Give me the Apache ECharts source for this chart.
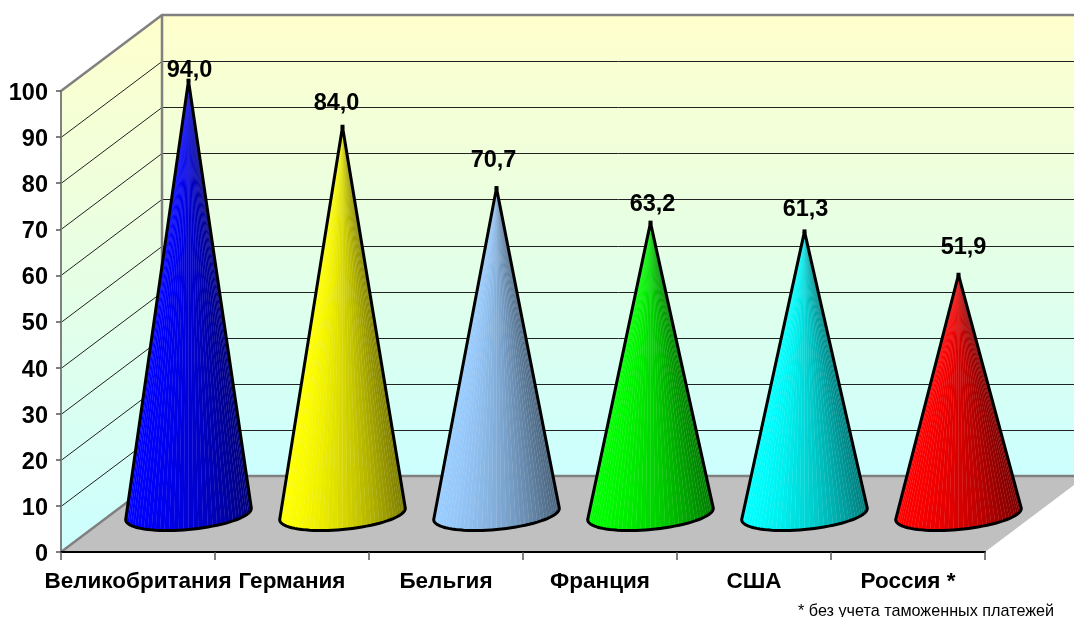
<!DOCTYPE html>
<html>
<head>
<meta charset="utf-8">
<style>html,body{margin:0;padding:0;background:#fff}#main{width:1074px;height:617px}</style>
<script src="https://cdn.jsdelivr.net/npm/echarts@6/dist/echarts.min.js"></script>
</head>
<body>
<div id="main"></div>
<script>
const categories = ['Великобритания', 'Германия', 'Бельгия', 'Франция', 'США', 'Россия *'];
const values = [94.0, 84.0, 70.7, 63.2, 61.3, 51.9];
const brightColors = ['#0000FF', '#FFFF00', '#99CCFF', '#00FF00', '#00FFFF', '#FF0000'];
const gridValues = [10, 20, 30, 40, 50, 60, 70, 80, 90, 100];
const footnote = '* без учета таможенных платежей';

// Oblique projection of the box: how far the back plane is shifted from the front plane.
const DEPTH_X = 101, DEPTH_Y = 76;
// Cone base ellipse, expressed in the floor plane.
const BASE_A = 59, BASE_BX = 21.6, BASE_BY = 16.5;
const FACETS = 40;
// Nudges of the value captions relative to each cone tip.
const captionNudge = [[1, -10], [-6, -23], [-3, -28], [2, -18], [1, -22], [5, -27]];

const FONT = '"Liberation Sans", Arial, sans-serif';

function rgbOf(hex) {
  const n = parseInt(hex.slice(1), 16);
  return [(n >> 16) & 255, (n >> 8) & 255, n & 255];
}
function faceShade(u) {
  return 1 - 0.42 * u * u - 0.1 * u;
}
function shade(hex, k) {
  return 'rgb(' + rgbOf(hex).map(v => Math.round(v * k)).join(',') + ')';
}
// The same shade pulled towards white: shows through the seams between facets.
function seamShade(hex, k) {
  return 'rgb(' + rgbOf(hex).map(v => Math.round(v * k + (255 - v * k) * 0.5)).join(',') + ')';
}

function renderBox(params, api) {
  const cs = params.coordSys;
  const left = cs.x, right = cs.x + cs.width, top = cs.y, bottom = cs.y + cs.height;
  const wallFill = new echarts.graphic.LinearGradient(0, 0, 0, 1, [
    { offset: 0, color: '#FFFFCC' }, { offset: 1, color: '#CCFFFF' }
  ]);
  const children = [
    { type: 'polygon', shape: { points: [[left + DEPTH_X, top - DEPTH_Y], [right + DEPTH_X, top - DEPTH_Y], [right + DEPTH_X, bottom - DEPTH_Y], [left + DEPTH_X, bottom - DEPTH_Y]] }, style: { fill: wallFill } },
    { type: 'polygon', shape: { points: [[left, top], [left + DEPTH_X, top - DEPTH_Y], [left + DEPTH_X, bottom - DEPTH_Y], [left, bottom]] }, style: { fill: wallFill } },
    { type: 'polygon', shape: { points: [[left, bottom], [right, bottom], [right + DEPTH_X, bottom - DEPTH_Y], [left + DEPTH_X, bottom - DEPTH_Y]] }, style: { fill: '#C0C0C0' } }
  ];
  gridValues.forEach(v => {
    if (v === 100) return;
    const y = Math.round(api.coord([0, v])[1]) + 0.5;
    children.push({ type: 'polyline', shape: { points: [[left, y], [left + DEPTH_X, y - DEPTH_Y], [right + DEPTH_X, y - DEPTH_Y]] }, style: { fill: null, stroke: '#222', lineWidth: 1 } });
  });
  const edge = { fill: null, stroke: '#808080', lineWidth: 2.5 };
  children.push(
    { type: 'polyline', shape: { points: [[left, top], [left + DEPTH_X, top - DEPTH_Y], [right + DEPTH_X, top - DEPTH_Y]] }, style: edge },
    { type: 'polyline', shape: { points: [[left + DEPTH_X, top - DEPTH_Y], [left + DEPTH_X, bottom - DEPTH_Y], [right + DEPTH_X, bottom - DEPTH_Y]] }, style: edge },
    { type: 'polyline', shape: { points: [[left, bottom], [left + DEPTH_X, bottom - DEPTH_Y]] }, style: edge }
  );
  return { type: 'group', children };
}

function renderCone(params, api) {
  const idx = api.value(0), val = api.value(1);
  const p0 = api.coord([idx, 0]), pv = api.coord([idx, val]);
  const cx = p0[0] + DEPTH_X / 2, cy = p0[1] - DEPTH_Y / 2;
  const tip = [pv[0] + DEPTH_X / 2, pv[1] - DEPTH_Y / 2];
  const phi = Math.atan2(BASE_BX, BASE_A);
  const arc = [];
  for (let i = 0; i <= FACETS; i++) {
    const t = Math.PI + phi + Math.PI * i / FACETS;
    arc.push([cx + BASE_A * Math.cos(t) + BASE_BX * Math.sin(t), cy - BASE_BY * Math.sin(t)]);
  }
  const minX = arc[0][0], maxX = arc[FACETS][0];
  const color = brightColors[idx];
  const stops = [0, 0.25, 0.5, 0.75, 1].map(u => ({ offset: u, color: seamShade(color, faceShade(u)) }));
  const children = [{
    type: 'polygon',
    shape: { points: [tip].concat(arc) },
    style: { fill: new echarts.graphic.LinearGradient(minX, 0, maxX, 0, stops, true) }
  }];
  for (let i = 0; i < FACETS; i++) {
    const u = ((arc[i][0] + arc[i + 1][0]) / 2 - minX) / (maxX - minX);
    children.push({
      type: 'polygon',
      shape: { points: [tip, arc[i], arc[i + 1]] },
      style: { fill: shade(color, faceShade(u)), stroke: null }
    });
  }
  children.push({
    type: 'polygon',
    shape: { points: [tip].concat(arc) },
    style: { fill: null, stroke: '#000', lineWidth: 3, lineJoin: 'round' }
  });
  children.push({
    type: 'rect',
    shape: { x: tip[0] - 2, y: tip[1] - 2, width: 4, height: 4 },
    style: { fill: '#000' }
  });
  const nudge = captionNudge[idx];
  children.push({
    type: 'text',
    x: tip[0] + nudge[0],
    y: tip[1] + nudge[1],
    style: {
      text: val.toFixed(1).replace('.', ','),
      font: 'bold 23.5px ' + FONT,
      fill: '#000',
      align: 'center',
      verticalAlign: 'middle'
    }
  });
  return { type: 'group', children };
}

const chart = echarts.init(document.getElementById('main'), null, { renderer: 'canvas' });
chart.setOption({
  animation: false,
  backgroundColor: '#fff',
  title: {
    text: footnote,
    left: 798,
    top: 604,
    padding: 0,
    textStyle: { fontFamily: FONT, fontSize: 16.2, fontWeight: 'normal', color: '#000' }
  },
  grid: { left: 61, right: 89, top: 91, bottom: 65 },
  xAxis: {
    type: 'category',
    data: categories,
    z: 5,
    axisLine: { lineStyle: { color: '#000', width: 2 } },
    axisTick: { show: true, length: 8, lineStyle: { color: '#555', width: 1.5 } },
    axisLabel: { interval: 0, margin: 18, color: '#000', fontFamily: FONT, fontWeight: 'bold', fontSize: 22.5 }
  },
  yAxis: {
    type: 'value',
    min: 0,
    max: 100,
    interval: 10,
    z: 5,
    splitLine: { show: false },
    axisLine: { show: true, lineStyle: { color: '#808080', width: 2 } },
    axisTick: { show: true, length: 5, lineStyle: { color: '#555', width: 1.5 } },
    axisLabel: { margin: 13, verticalAlign: 'top', lineHeight: 5, color: '#000', fontFamily: FONT, fontWeight: 'bold', fontSize: 23.5 }
  },
  series: [
    { type: 'custom', z: 1, silent: true, data: [[0, 0]], renderItem: renderBox },
    {
      type: 'custom', z: 2, silent: true,
      encode: { x: 0, y: 1 },
      data: values.map((v, i) => [i, v]),
      renderItem: renderCone
    }
  ]
});
</script>
</body>
</html>
